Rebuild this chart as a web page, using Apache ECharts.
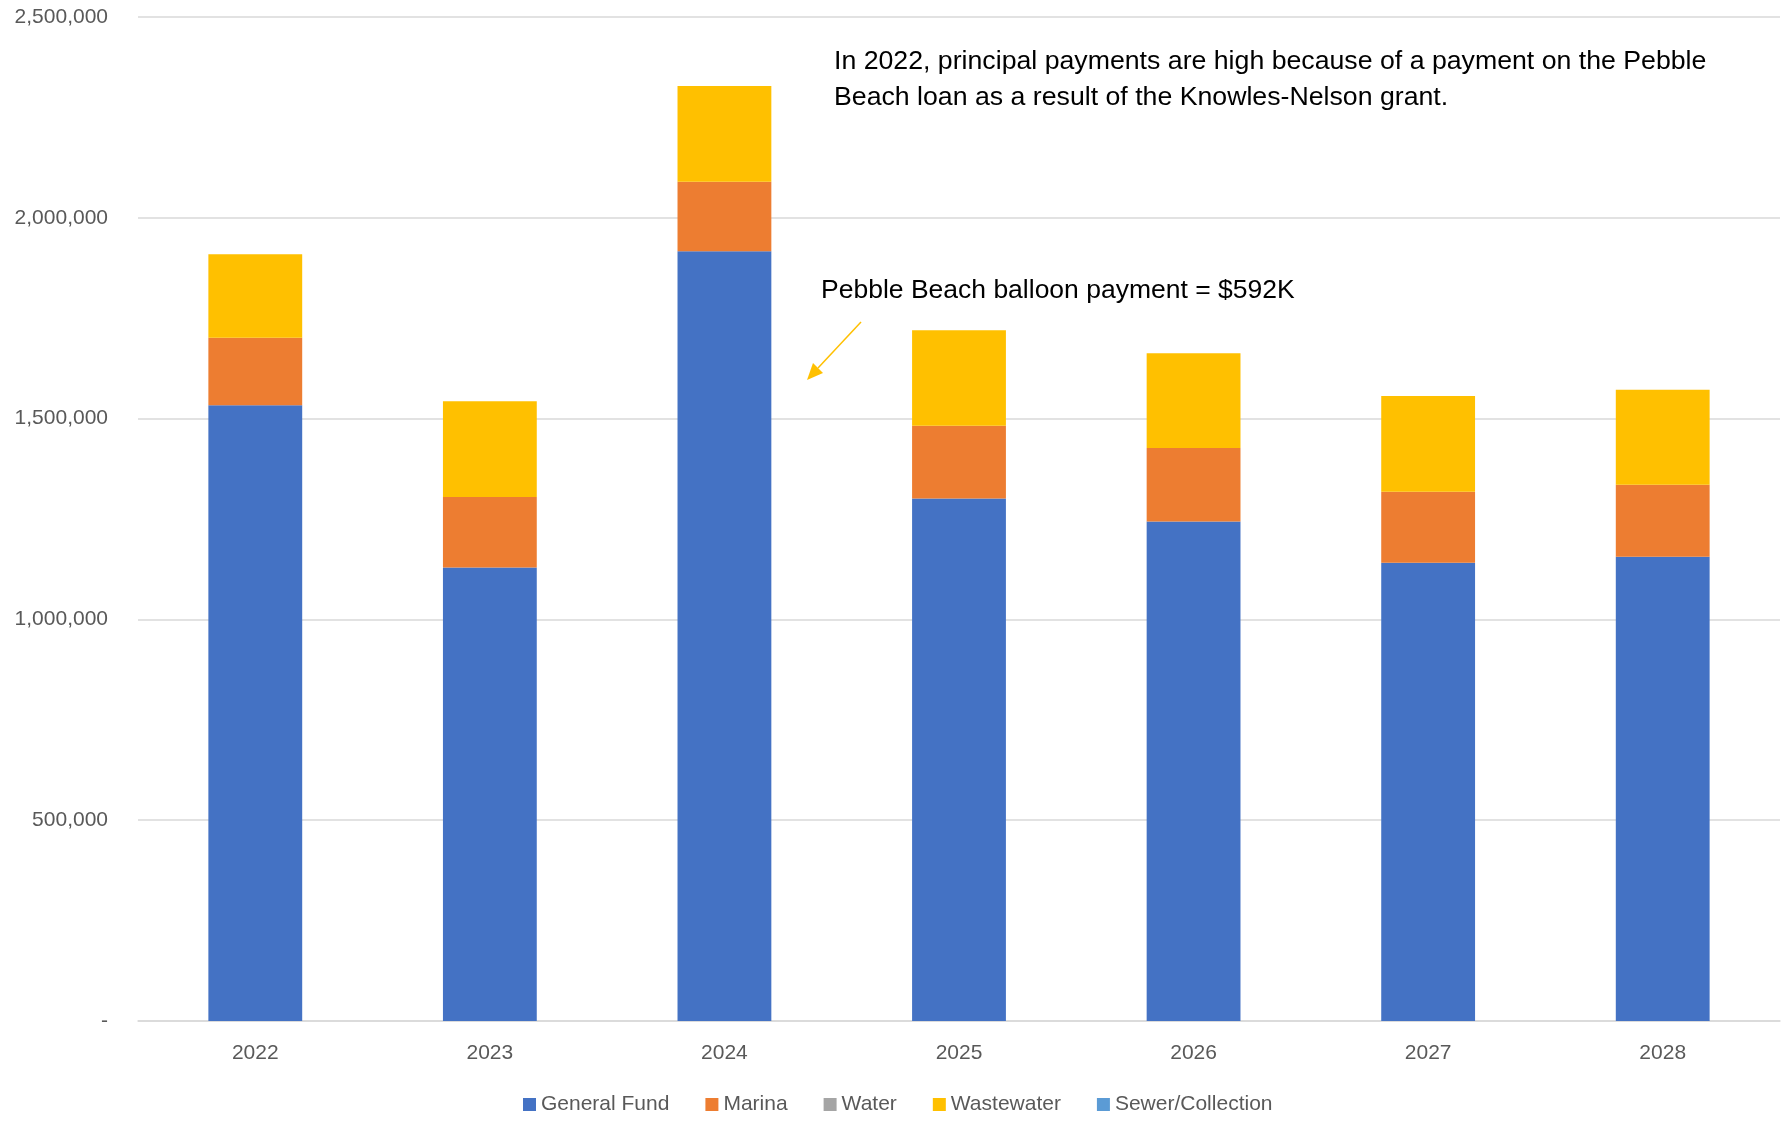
<!DOCTYPE html>
<html>
<head>
<meta charset="utf-8">
<script src="https://cdn.jsdelivr.net/npm/echarts@6/dist/echarts.min.js"></script>
<style>
  html, body { margin: 0; padding: 0; background: #fff; }
  #chart { width: 1789px; height: 1121px; }
</style>
</head>
<body>
<div id="chart"></div>
<script>
var years = ['2022', '2023', '2024', '2025', '2026', '2027', '2028'];

var generalFund = [1533000, 1129000, 1917000, 1301000, 1244000, 1141000, 1156000];
var marina      = [168500, 176000, 173000, 181000, 183000, 177000, 179000];
var water       = [0, 0, 0, 0, 0, 0, 0];
var wastewater  = [207500, 238000, 238000, 238000, 236000, 238000, 237000];
var sewer       = [0, 0, 0, 0, 0, 0, 0];

var note1 = ['In 2022, principal payments are high because of a payment on the Pebble',
             'Beach loan as a result of the Knowles-Nelson grant.'];
var note2 = 'Pebble Beach balloon payment = $592K';

var myChart = echarts.init(document.getElementById('chart'));

var font = 'Liberation Sans';

function barSeries(name, data, color) {
    return {
        type: 'bar',
        name: name,
        stack: 'total',
        barWidth: '40%',
        itemStyle: { color: color },
        data: data
    };
}

var option = {
    backgroundColor: '#fff',
    animation: false,
    textStyle: { fontFamily: font },
    grid: {
        left: 138,
        right: 9,
        top: 17,
        bottom: 100
    },
    legend: {
        bottom: 1,
        left: 518,
        icon: 'rect',
        itemWidth: 13,
        itemHeight: 13,
        itemGap: 36,
        textStyle: { fontSize: 21, color: '#595959', fontFamily: font }
    },
    xAxis: {
        type: 'category',
        data: years,
        axisTick: { show: false },
        axisLine: { lineStyle: { color: '#D9D9D9', width: 1.5 } },
        axisLabel: { fontSize: 21, color: '#595959', margin: 22 }
    },
    yAxis: {
        type: 'value',
        min: 0,
        max: 2500000,
        interval: 500000,
        axisLine: { show: false },
        axisTick: { show: false },
        splitLine: { lineStyle: { color: '#D9D9D9', width: 1.5 } },
        axisLabel: {
            fontSize: 21,
            color: '#595959',
            margin: 30,
            formatter: function (v) {
                return v === 0 ? '-' : v.toLocaleString('en-US');
            }
        }
    },
    series: [
        barSeries('General Fund', generalFund, '#4472C4'),
        barSeries('Marina', marina, '#ED7D31'),
        barSeries('Water', water, '#A5A5A5'),
        barSeries('Wastewater', wastewater, '#FFC000'),
        barSeries('Sewer/Collection', sewer, '#5B9BD5')
    ],
    graphic: [
        {
            type: 'text',
            left: 834,
            top: 43,
            style: {
                text: note1.join('\n'),
                font: '26.7px ' + font,
                fill: '#000',
                lineHeight: 36.5
            }
        },
        {
            type: 'text',
            left: 821,
            top: 276,
            style: {
                text: note2,
                font: '26.5px ' + font,
                fill: '#000',
                lineHeight: 30
            }
        },
        {
            type: 'line',
            shape: { x1: 861, y1: 322, x2: 818, y2: 368 },
            style: { stroke: '#FFC000', lineWidth: 1.5 }
        },
        {
            type: 'polygon',
            shape: { points: [[807, 380], [823, 373], [813, 363]] },
            style: { fill: '#FFC000' }
        }
    ]
};

myChart.setOption(option);
</script>
</body>
</html>
